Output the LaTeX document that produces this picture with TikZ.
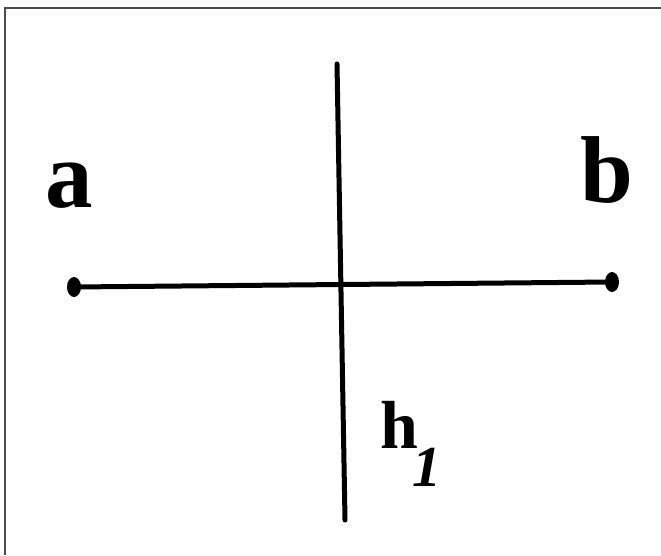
\documentclass[tikz,border=0pt]{standalone}
\usepackage{fontspec}
\setmainfont{Liberation Serif}
\usetikzlibrary{shapes.geometric}
\begin{document}
\begin{tikzpicture}[x=1pt,y=1pt,
  frameline/.style={draw=black!70,line width=1.5pt},
  stroke/.style={line width=5pt,line cap=round},
  dotnode/.style={ellipse,fill=black,minimum width=14pt,minimum height=20pt,inner sep=0pt},
  lab/.style={anchor=base west,inner sep=0pt,font=\fontsize{95}{95}\selectfont\bfseries},
  hlab/.style={anchor=base west,inner sep=0pt,font=\fontsize{68}{68}\selectfont\bfseries}]
\useasboundingbox (0,0) rectangle (661,555);
\draw[frameline] (5,0) -- (5,547) -- (661,547);
\node[dotnode] (pa) at (74,268) {};
\node[dotnode] (pb) at (612,273) {};
\coordinate (vtop) at (337,491);
\coordinate (vbot) at (345,35);
\draw[stroke] (pa.center) -- (pb.center);
\draw[stroke] (vtop) -- (vbot);
\node[lab] (la) at (45,347) {a};
\node[lab] (lb) at (580,352) {b};
\node[hlab] (lh) at (380,107) {h\kern-6pt\raisebox{-38pt}{\fontsize{58}{58}\selectfont\itshape 1}};
\end{tikzpicture}
\end{document}
